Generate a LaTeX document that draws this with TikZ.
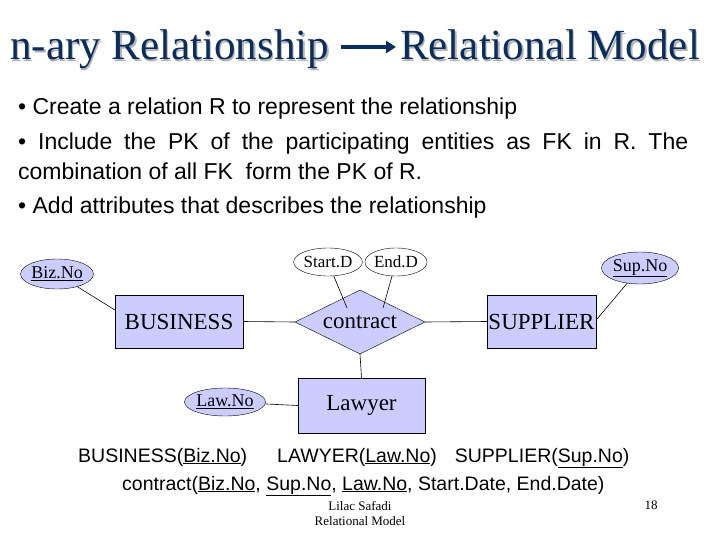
\documentclass[tikz,border=0pt]{standalone}
\usepackage{fontspec}
\setmainfont{Liberation Serif}
\newfontfamily\arial{Liberation Sans}
\usetikzlibrary{shapes.geometric,arrows.meta}
\definecolor{navy}{HTML}{0B2D5E}
\definecolor{lav}{HTML}{CCCCFF}
\tikzset{
 ent/.style={draw,fill=lav,minimum width=#1,minimum height=53pt,inner sep=0pt,font=\fontsize{23}{23}\selectfont},
 att/.style={draw,ellipse,fill=lav,minimum width=#1,minimum height=30pt,inner sep=0pt,font=\fontsize{18}{18}\selectfont},
 watt/.style={draw,ellipse,fill=white,minimum width=52pt,minimum height=28pt,inner sep=0pt,font=\fontsize{17}{17}\selectfont},
 bul/.style={anchor=base west,font=\arial\fontsize{23}{30}\selectfont,inner sep=0pt},
 rel/.style={anchor=base west,font=\arial\fontsize{19.5}{20}\selectfont,inner sep=0pt},
 ttl/.style={anchor=base west,text=navy,font=\fontsize{43}{43}\selectfont,inner sep=0pt},
 ln/.style={draw,line width=0.6pt}
}
\newcommand{\ku}[1]{\underline{#1}}
\begin{document}
\begin{tikzpicture}[x=1pt,y=-1pt]
\useasboundingbox (0,0) rectangle (720,540);
% title
\node[ttl,text=gray!60] at (11.5,61.5) {n-ary Relationship};
\node[ttl] (t1) at (10,60) {n-ary Relationship};
\node[ttl,text=gray!60] at (401.5,61.5) {Relational Model};
\node[ttl] (t2) at (400,60) {Relational Model};
\draw[navy,line width=4pt,-{Triangle[length=10pt,width=12pt]}] (341,47) coordinate (a1) -- (396,47) coordinate (a2);
% bullets
\node[bul] (b1) at (18,115) {• Create a relation R to represent the relationship};
\node[bul,text width=670pt,align=justify,anchor=base west] (b2) at (18,150) {\hyphenpenalty=10000 • Include the PK of the participating entities as FK in R. The\linebreak combination of all FK\ \ form the PK of R.};
\node[bul] (b3) at (18,214) {• Add attributes that describes the relationship};
% ER
\node[ent=128pt] (bus) at (179,321.5) {BUSINESS};
\node[draw,diamond,fill=lav,minimum width=130pt,minimum height=64pt,inner sep=0pt,aspect=2,font=\fontsize{23}{23}\selectfont] (con) at (360,322) {contract};
\node[ent=109pt] (sup) at (541.5,321.5) {SUPPLIER};
\node[ent=127pt,minimum height=55pt] (law) at (361.5,405.5) {Lawyer};
\node[att=68pt] (biz) at (57,274) {\ku{Biz.No}};
\node[att=60pt,minimum height=32pt] (sno) at (640,268) {\ku{Sup.No}};
\node[att=66pt,minimum height=28pt] (lno) at (225,402) {\ku{Law.No}};
\node[watt] (sd) at (328,262) {Start.D};
\node[watt] (ed) at (396,262) {End.D};
\draw[ln] (biz) -- (bus.north west|-0,310);
\draw[ln] (sno) -- (sup.east|-0,320);
\draw[ln] (sd) -- (347,308);
\draw[ln] (ed) -- (383,308);
\draw[ln] (bus.east) -- (con.west);
\draw[ln] (con.east) -- (sup.west);
\draw[ln] (con.south) -- (law.north);
\draw[ln] (lno) -- (law.west);
% relations
\node[rel] (r1) at (78,462) {BUSINESS(\ku{Biz.No})\hspace{30pt}LAWYER(\ku{Law.No})\hspace{18pt}SUPPLIER(\ku{Sup.No})};
\node[rel] (r2) at (122,490) {contract(\ku{Biz.No}, \ku{Sup.No}, \ku{Law.No}, Start.Date, End.Date)};
\node[font=\fontsize{13}{13}\selectfont,align=center,inner sep=0pt] (ft) at (360,513) {Lilac Safadi\\[2pt]Relational Model};
\node[font=\fontsize{13}{13}\selectfont,inner sep=0pt] (pg) at (651,505) {18};
\end{tikzpicture}
\end{document}
